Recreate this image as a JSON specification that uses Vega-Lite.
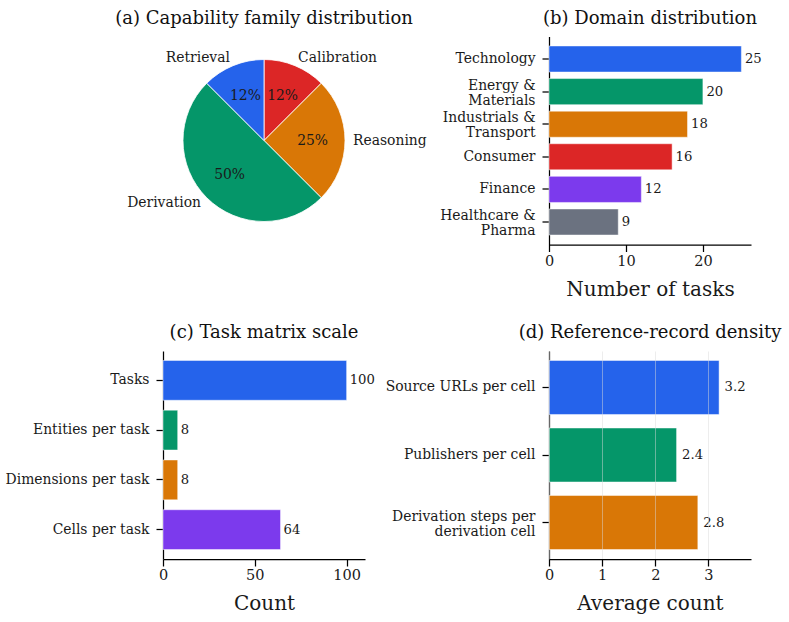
{
  "$schema": "https://vega.github.io/schema/vega-lite/v6.json",
  "background": "white",
  "padding": {"left": 5, "top": 9.5, "right": 5, "bottom": 5},
  "bounds": "flush",
  "columns": 2,
  "spacing": {"row": 106.5, "column": 184},
  "resolve": {"scale": {"color": "independent"}},
  "config": {
    "font": "DejaVu Serif",
    "view": {"stroke": null},
    "title": {"font": "DejaVu Serif", "fontSize": 18, "fontWeight": "normal", "color": "#111111", "anchor": "middle", "offset": 9},
    "axis": {
      "labelFont": "DejaVu Serif",
      "titleFont": "DejaVu Serif",
      "labelColor": "#1a1a1a",
      "titleColor": "#1a1a1a",
      "domainColor": "#000000",
      "domainWidth": 1.25,
      "tickColor": "#000000",
      "tickWidth": 1.25,
      "grid": false,
      "titleFontWeight": "normal"
    },
    "axisX": {"labelFontSize": 14.5, "titleFontSize": 20, "tickSize": 7, "labelPadding": 2.5, "titlePadding": 11.5, "labelFlush": false},
    "axisY": {"labelFontSize": 13.9, "tickSize": 7, "labelPadding": 7, "labelLineHeight": 15, "title": null},
    "text": {"font": "DejaVu Serif", "color": "#1a1a1a"}
  },
  "datasets": {
    "families": [
      {"family": "Calibration", "share": 12.5, "pct": "12%", "slot": 1},
      {"family": "Reasoning", "share": 25, "pct": "25%", "slot": 2},
      {"family": "Derivation", "share": 50, "pct": "50%", "slot": 3},
      {"family": "Retrieval", "share": 12.5, "pct": "12%", "slot": 4}
    ],
    "domains": [
      {"domain": "Technology", "tasks": 25},
      {"domain": "Energy & Materials", "tasks": 20},
      {"domain": "Industrials & Transport", "tasks": 18},
      {"domain": "Consumer", "tasks": 16},
      {"domain": "Finance", "tasks": 12},
      {"domain": "Healthcare & Pharma", "tasks": 9}
    ],
    "matrix": [
      {"item": "Tasks", "count": 100},
      {"item": "Entities per task", "count": 8},
      {"item": "Dimensions per task", "count": 8},
      {"item": "Cells per task", "count": 64}
    ],
    "density": [
      {"record": "Source URLs per cell", "avg": 3.2},
      {"record": "Publishers per cell", "avg": 2.4},
      {"record": "Derivation steps per derivation cell", "avg": 2.8}
    ]
  },
  "concat": [
    {
      "title": "(a) Capability family distribution",
      "width": 202,
      "height": 208,
      "data": {"name": "families"},
      "encoding": {
        "theta": {"field": "share", "type": "quantitative", "stack": true},
        "order": {"field": "slot", "type": "quantitative"}
      },
      "layer": [
        {
          "mark": {"type": "arc", "outerRadius": 81, "stroke": "white", "strokeWidth": 0.8},
          "encoding": {
            "color": {
              "field": "family", "type": "nominal", "legend": null,
              "scale": {"domain": ["Retrieval", "Calibration", "Reasoning", "Derivation"], "range": ["#2563eb", "#dc2626", "#d97706", "#059669"]}
            }
          }
        },
        {
          "mark": {"type": "text", "radius": 48.6, "fontSize": 13.9, "align": "center", "baseline": "middle"},
          "encoding": {"text": {"field": "pct"}}
        },
        {
          "mark": {"type": "text", "radius": 89, "fontSize": 13.9, "align": "right", "baseline": "middle"},
          "encoding": {
            "text": {"condition": {"test": "datum.family === 'Retrieval' || datum.family === 'Derivation'", "field": "family"}, "value": ""}
          }
        },
        {
          "mark": {"type": "text", "radius": 89, "fontSize": 13.9, "align": "left", "baseline": "middle"},
          "encoding": {
            "text": {"condition": {"test": "datum.family === 'Calibration' || datum.family === 'Reasoning'", "field": "family"}, "value": ""}
          }
        }
      ]
    },
    {
      "title": "(b) Domain distribution",
      "width": 202,
      "height": 208,
      "data": {"name": "domains"},
      "encoding": {
        "y": {
          "field": "domain", "type": "nominal", "sort": null,
          "scale": {"paddingInner": 0.2, "paddingOuter": 0.29},
          "axis": {
            "labelExpr": "datum.label === 'Energy & Materials' ? ['Energy &', 'Materials'] : datum.label === 'Industrials & Transport' ? ['Industrials &', 'Transport'] : datum.label === 'Healthcare & Pharma' ? ['Healthcare &', 'Pharma'] : datum.label",
            "labelOffset": {"condition": {"test": "indexof(datum.value, '&') >= 0", "value": -6}, "value": 0}
          }
        },
        "x": {
          "field": "tasks", "type": "quantitative",
          "scale": {"domain": [0, 26.25], "nice": false},
          "axis": {"values": [0, 10, 20], "title": "Number of tasks"}
        }
      },
      "layer": [
        {
          "mark": {"type": "bar", "stroke": "white", "strokeWidth": 0.8, "strokeOpacity": 0.6},
          "encoding": {
            "color": {
              "field": "domain", "type": "nominal", "legend": null,
              "scale": {"domain": ["Technology", "Energy & Materials", "Industrials & Transport", "Consumer", "Finance", "Healthcare & Pharma"], "range": ["#2563eb", "#059669", "#d97706", "#dc2626", "#7c3aed", "#6b7280"]}
            }
          }
        },
        {
          "mark": {"type": "text", "align": "left", "baseline": "middle", "dx": 3.5, "fontSize": 13.2},
          "encoding": {"text": {"field": "tasks", "type": "quantitative"}}
        }
      ]
    },
    {
      "title": "(c) Task matrix scale",
      "width": 202,
      "height": 208,
      "data": {"name": "matrix"},
      "encoding": {
        "y": {
          "field": "item", "type": "nominal", "sort": null,
          "scale": {"paddingInner": 0.2, "paddingOuter": 0.19}
        },
        "x": {
          "field": "count", "type": "quantitative",
          "scale": {"domain": [0, 110], "nice": false},
          "axis": {"values": [0, 50, 100], "title": "Count"}
        }
      },
      "layer": [
        {
          "mark": {"type": "bar", "stroke": "white", "strokeWidth": 0.8, "strokeOpacity": 0.6},
          "encoding": {
            "color": {
              "field": "item", "type": "nominal", "legend": null,
              "scale": {"domain": ["Tasks", "Entities per task", "Dimensions per task", "Cells per task"], "range": ["#2563eb", "#059669", "#d97706", "#7c3aed"]}
            }
          }
        },
        {
          "mark": {"type": "text", "align": "left", "baseline": "middle", "dx": 3, "fontSize": 13.2},
          "encoding": {"text": {"field": "count", "type": "quantitative"}}
        }
      ]
    },
    {
      "title": "(d) Reference-record density",
      "width": 202,
      "height": 208,
      "data": {"name": "density"},
      "encoding": {
        "y": {
          "field": "record", "type": "nominal", "sort": null,
          "scale": {"paddingInner": 0.2, "paddingOuter": 0.14},
          "axis": {
            "labelExpr": "datum.label === 'Derivation steps per derivation cell' ? ['Derivation steps per', 'derivation cell'] : datum.label",
            "labelOffset": {"condition": {"test": "datum.value === 'Derivation steps per derivation cell'", "value": -6}, "value": 0}
          }
        },
        "x": {
          "field": "avg", "type": "quantitative",
          "scale": {"domain": [0, 3.8], "nice": false},
          "axis": {"values": [0, 1, 2, 3], "title": "Average count", "grid": true, "gridColor": "#d9d9d9", "gridOpacity": 0.6, "gridWidth": 0.8, "zindex": 1}
        }
      },
      "layer": [
        {
          "mark": {"type": "bar", "stroke": "white", "strokeWidth": 0.8, "strokeOpacity": 0.6},
          "encoding": {
            "color": {
              "field": "record", "type": "nominal", "legend": null,
              "scale": {"domain": ["Source URLs per cell", "Publishers per cell", "Derivation steps per derivation cell"], "range": ["#2563eb", "#059669", "#d97706"]}
            }
          }
        },
        {
          "mark": {"type": "text", "align": "left", "baseline": "middle", "dx": 5.5, "fontSize": 13.2},
          "encoding": {"text": {"field": "avg", "type": "quantitative", "format": ".1f"}}
        }
      ]
    }
  ]
}
